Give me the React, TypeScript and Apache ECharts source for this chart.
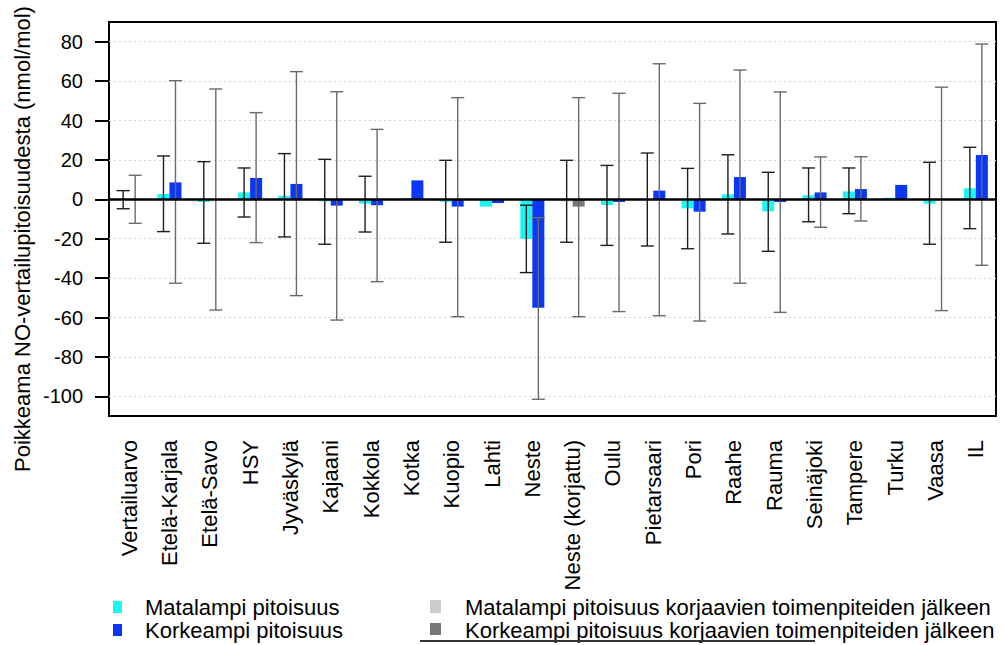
import React, { useEffect, useRef } from "react";
import * as echarts from "echarts";

const categories = [
  "Vertailuarvo", "Etelä-Karjala", "Etelä-Savo", "HSY", "Jyväskylä", "Kajaani",
  "Kokkola", "Kotka", "Kuopio", "Lahti", "Neste", "Neste (korjattu)", "Oulu",
  "Pietarsaari", "Pori", "Raahe", "Rauma", "Seinäjoki", "Tampere", "Turku", "Vaasa", "IL",
];

const seriesNames = [
  "Matalampi pitoisuus",
  "Korkeampi pitoisuus",
  "Matalampi pitoisuus korjaavien toimenpiteiden jälkeen",
  "Korkeampi pitoisuus korjaavien toimenpiteiden jälkeen",
];

// Deviation from NO reference (nmol/mol)
const lowValues = [null, 2.7, -1.4, 3.5, 1.8, -1.0, -2.2, 0.5, -1.2, -3.7, -20.1, null, -2.9, 0, -4.6, 2.5, -6.1, 2.0, 4.0, 0.8, -2.2, 5.6];
const highValues = [null, 8.6, 0, 10.8, 7.8, -3.2, -3.0, 9.6, -3.7, -1.9, -55.0, null, -1.4, 4.4, -6.3, 11.3, -1.4, 3.5, 5.2, 7.3, -0.3, 22.5];
const lowCorrected = [null, null, null, null, null, null, null, null, null, null, null, -1.0, null, null, null, null, null, null, null, null, null, null];
const highCorrected = [null, null, null, null, null, null, null, null, null, null, null, -3.7, null, null, null, null, null, null, null, null, null, null];

// Uncertainty ranges [min, max]
const lowErr = [
  [-4.8, 4.4], [-16.4, 22.0], [-22.3, 19.1], [-9.0, 15.9], [-19.1, 23.2], [-22.8, 20.3],
  [-16.6, 11.7], null, [-21.8, 19.8], null, [-37.2, -3.0], [-21.8, 19.8], [-23.4, 17.2],
  [-23.7, 23.5], [-25.1, 15.7], [-17.6, 22.6], [-26.4, 13.7], [-11.4, 15.9], [-7.3, 15.9],
  null, [-22.8, 18.8], [-14.9, 26.4],
];
const highErr = [
  [-12.2, 12.2], [-42.6, 60.2], [-56.2, 56.0], [-22.0, 44.0], [-48.9, 64.8], [-61.3, 54.6],
  [-41.8, 35.5], null, [-59.6, 51.6], null, [-101.5, -9.3], [-59.6, 51.6], [-57.0, 53.8],
  [-59.1, 68.8], [-61.8, 48.7], [-42.6, 65.6], [-57.4, 54.5], [-14.2, 21.5], [-11.0, 21.6],
  null, [-56.5, 56.9], [-33.5, 78.8],
];

const yTicks = [-100, -80, -60, -40, -20, 0, 20, 40, 60, 80];
const yName = "Poikkeama NO-vertailupitoisuudesta (nmol/mol)";

const FONT = "'Liberation Sans', Arial, sans-serif";
const COLORS = ["#1AF5F5", "#0A37F5", "#CCCCCC", "#777777"];
const BAR_W = 12;

function errSeries(name: string, errs: (number[] | null)[], offset: number, color: string) {
  const data = errs
    .map((e, i) => (e ? [i, e[0], e[1]] : null))
    .filter((d) => d !== null);
  return {
    type: "custom",
    name,
    data,
    encode: { x: 0, y: [1, 2] },
    z: 5,
    silent: true,
    renderItem: (params: any, api: any) => {
      const idx = api.value(0);
      const lo = api.coord([idx, api.value(1)]);
      const hi = api.coord([idx, api.value(2)]);
      const x = lo[0] + offset;
      const cap = 6.5;
      const style = { stroke: color, lineWidth: 1.4 };
      return {
        type: "group",
        children: [
          { type: "line", shape: { x1: x, y1: hi[1], x2: x, y2: lo[1] }, style },
          { type: "line", shape: { x1: x - cap, y1: hi[1], x2: x + cap, y2: hi[1] }, style },
          { type: "line", shape: { x1: x - cap, y1: lo[1], x2: x + cap, y2: lo[1] }, style },
        ],
      };
    },
  };
}

export default function App() {
  const ref = useRef<HTMLDivElement>(null);
  useEffect(() => {
    if (!ref.current) return;
    const chart = echarts.init(ref.current, null, { renderer: "svg" });
    const legendRows = [
      { x: 113, y: 601, w: 9, h: 12, tx: 145, ty: 607, c: COLORS[0], n: seriesNames[0] },
      { x: 113, y: 624, w: 9, h: 12, tx: 145, ty: 630, c: COLORS[1], n: seriesNames[1] },
      { x: 430, y: 600, w: 11, h: 13, tx: 465, ty: 607, c: COLORS[2], n: seriesNames[2] },
      { x: 430, y: 623, w: 11, h: 12, tx: 465, ty: 630, c: COLORS[3], n: seriesNames[3] },
    ];
    const graphics: any[] = [];
    legendRows.forEach((r) => {
      graphics.push({ type: "rect", left: r.x, top: r.y, shape: { width: r.w, height: r.h }, style: { fill: r.c } });
      graphics.push({
        type: "text",
        x: r.tx,
        y: r.ty,
        style: { text: r.n, font: `22px ${FONT}`, fill: "#000", align: "left", verticalAlign: "middle" },
      });
    });
    graphics.push({ type: "line", shape: { x1: 420, y1: 641, x2: 815, y2: 641 }, style: { stroke: "#333", lineWidth: 2 } });
    graphics.push({
      type: "text",
      x: 22,
      y: 239,
      rotation: Math.PI / 2,
      style: { text: yName, font: `22px ${FONT}`, fill: "#000", align: "center", verticalAlign: "middle" },
    });

    chart.setOption({
      animation: false,
      backgroundColor: "#fff",
      textStyle: { fontFamily: FONT },
      grid: { left: 109, right: 9, top: 22, bottom: 229, show: true, borderColor: "#000", borderWidth: 2, backgroundColor: "transparent" },
      xAxis: {
        type: "category",
        data: categories,
        axisLine: { onZero: false, lineStyle: { color: "#000", width: 2 } },
        axisTick: { alignWithLabel: true, length: 15, lineStyle: { color: "#000", width: 2 } },
        axisLabel: { rotate: 90, interval: 0, margin: 24, fontSize: 22, color: "#000", fontFamily: FONT },
        splitLine: { show: false },
      },
      yAxis: {
        type: "value",
        min: -110,
        max: 90,
        axisLine: { show: true, lineStyle: { color: "#000", width: 2 } },
        axisTick: { show: true, length: 14, customValues: yTicks, lineStyle: { color: "#000", width: 2 } },
        axisLabel: { customValues: yTicks, margin: 26, fontSize: 20, color: "#000", fontFamily: FONT },
        splitLine: { show: false },
      },
      graphic: graphics,
      series: [
        {
          type: "bar",
          name: seriesNames[0],
          data: lowValues,
          stack: "low",
          barWidth: BAR_W,
          barGap: "0%",
          itemStyle: { color: COLORS[0] },
          markLine: {
            silent: true,
            symbol: "none",
            label: { show: false },
            z: 1,
            lineStyle: { color: "#d4d4d4", type: [2, 3], width: 1 },
            data: yTicks.filter((v) => v !== 0).map((v) => ({ yAxis: v })),
          },
        },
        {
          type: "bar",
          name: seriesNames[1],
          data: highValues,
          stack: "high",
          barWidth: BAR_W,
          barGap: "0%",
          itemStyle: { color: COLORS[1] },
        },
        {
          type: "bar",
          name: seriesNames[2],
          data: lowCorrected,
          stack: "low",
          barWidth: BAR_W,
          barGap: "0%",
          itemStyle: { color: COLORS[2] },
        },
        {
          type: "bar",
          name: seriesNames[3],
          data: highCorrected,
          stack: "high",
          barWidth: BAR_W,
          barGap: "0%",
          itemStyle: { color: COLORS[3] },
          markLine: {
            silent: true,
            symbol: "none",
            label: { show: false },
            z: 10,
            lineStyle: { color: "#000", type: "solid", width: 2.5 },
            data: [{ yAxis: 0 }],
          },
        },
        errSeries("err-low", lowErr, -BAR_W / 2, "#1e1e1e"),
        errSeries("err-high", highErr, BAR_W / 2, "#6a6a6a"),
      ],
    });
    return () => chart.dispose();
  }, []);
  return <div ref={ref} style={{ position: "fixed", left: 0, top: 0, width: 1005, height: 645 }} />;
}
